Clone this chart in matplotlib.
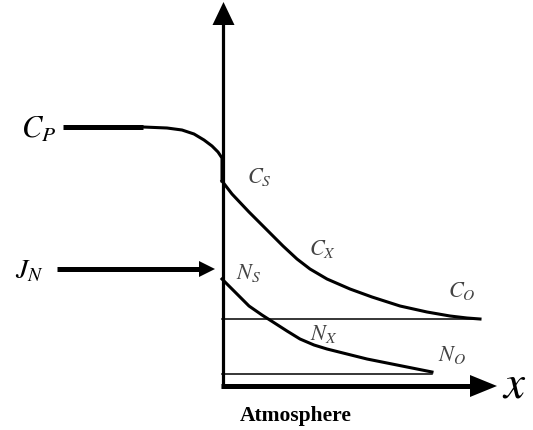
import matplotlib.pyplot as plt

plt.rcParams['mathtext.fontset'] = 'stix'
plt.rcParams['font.family'] = ['Liberation Serif', 'DejaVu Serif']

# origin of the diagram (interface / bottom of the atmosphere), in pixels
x0, y0 = 222, 387

# concentration profile C: condensed phase side (x < 0) and atmosphere side (x > 0)
cp_x = [-159, -79]
cp_y = [259, 259]
c_left_x = [-79, -55, -40, -28, -18, -10, -4, 0, 0]
c_left_y = [259, 258, 256, 252, 246, 240, 234, 228, 205]
c_x = [0, 10, 27, 45, 61, 75, 88, 105, 128, 150, 178, 205, 228, 245, 258]
c_y = [205, 192, 174, 156, 140, 127, 117, 107, 97, 89, 80, 74, 70, 68, 67]
c_o = 67

# species N profile in the atmosphere
n_x = [0, 13, 27, 40, 51, 65, 78, 92, 105, 125, 145, 175, 210]
n_y = [107, 94, 80, 71, 64, 55, 47, 41, 37, 32, 27, 21, 14]
n_o = 12

fig = plt.figure(figsize=(5.33, 4.31), dpi=100)
ax = fig.add_axes([0, 0, 1, 1])
ax.set_xlim(0, 533)
ax.set_ylim(0, 431)
ax.axis('off')

def px(xs):
    return [x0 + v for v in xs]

def py(ys):
    return [431 - y0 + v for v in ys]

# axes with solid triangular heads
ax.plot([x0 + 1, x0 + 1], [431 - y0 - 2, 431 - 24], color='black', lw=2.3, solid_capstyle='butt')
ax.fill([212.5, 234.5, 223.5], [431 - 26, 431 - 26, 431 - 3], color='black', lw=0)
ax.plot([x0 - 1, 472], [431 - y0, 431 - y0], color='black', lw=3.6, solid_capstyle='butt')
ax.fill([470, 470, 497], [431 - 376, 431 - 398, 431 - y0], color='black', lw=0)

# flux arrow J_N
ax.plot([57, 202], [431 - 270, 431 - 270], color='black', lw=3.6, solid_capstyle='butt')
ax.fill([199, 199, 215], [431 - 262, 431 - 278, 431 - 270], color='black', lw=0)

# profiles
ax.plot(px(cp_x), py(cp_y), color='black', lw=3.6, solid_capstyle='butt')
ax.plot(px(c_left_x), py(c_left_y), color='black', lw=2.2)
ax.plot(px(c_x), py(c_y), color='black', lw=2.2)
ax.plot(px(n_x), py(n_y), color='black', lw=2.2)
ax.plot(px([0, c_x[-1]]), py([c_o, c_o]), color='black', lw=1.1)
ax.plot(px([0, n_x[-1]]), py([n_o, n_o]), color='black', lw=1.1)

# labels
grey = '#444444'
ax.text(39, 431 - 130, r'$C_P$', fontsize=22, ha='center', va='center')
ax.text(29, 431 - 272, r'$J_N$', fontsize=20, ha='center', va='center')
ax.text(259, 431 - 177, r'$C_S$', fontsize=16, ha='center', va='center', color=grey)
ax.text(322, 431 - 249, r'$C_X$', fontsize=16, ha='center', va='center', color=grey)
ax.text(462, 431 - 291, r'$C_O$', fontsize=16, ha='center', va='center', color=grey)
ax.text(249, 431 - 273, r'$N_S$', fontsize=16, ha='center', va='center', color=grey)
ax.text(324, 431 - 334, r'$N_X$', fontsize=16, ha='center', va='center', color=grey)
ax.text(452, 431 - 355, r'$N_O$', fontsize=16, ha='center', va='center', color=grey)
ax.text(514, 431 - 386, r'$x$', fontsize=34, ha='center', va='center')
ax.text(296, 431 - 416, 'Atmosphere', fontsize=15.5, fontweight='bold',
        ha='center', va='center')

fig.savefig('out.png', dpi=100)
